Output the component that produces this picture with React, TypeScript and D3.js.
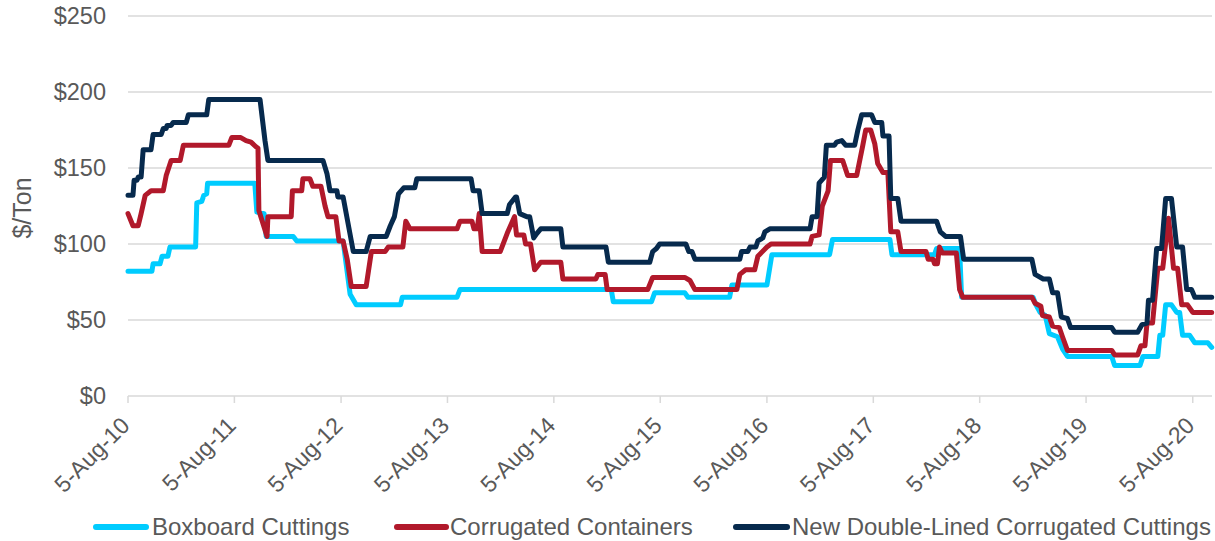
import React from "react";
import * as d3 from "d3";

// ---------- data ----------
const seriesNames = [
  "Boxboard Cuttings",
  "Corrugated Containers",
  "New Double-Lined Corrugated Cuttings",
];

const boxboardData: [string, number][] = [
  ["2010-08-05", 82], ["2010-10-26", 82], ["2010-10-30", 87], ["2010-11-23", 87],
  ["2010-11-30", 92], ["2010-12-20", 92], ["2010-12-27", 98], ["2011-03-25", 98],
  ["2011-03-29", 127], ["2011-04-15", 128], ["2011-04-22", 132], ["2011-05-02", 133],
  ["2011-05-05", 140], ["2011-10-14", 140], ["2011-10-21", 121], ["2011-11-15", 120],
  ["2011-11-22", 105], ["2012-02-23", 105], ["2012-03-06", 102], ["2012-08-12", 102],
  ["2012-09-05", 67], ["2012-09-26", 60], ["2013-02-25", 60], ["2013-03-03", 65],
  ["2013-09-07", 65], ["2013-09-17", 70], ["2015-02-18", 70], ["2015-02-25", 62],
  ["2015-07-06", 62], ["2015-07-17", 68], ["2015-10-28", 68], ["2015-11-08", 65],
  ["2016-03-30", 65], ["2016-04-07", 73], ["2016-08-05", 73], ["2016-08-22", 93],
  ["2017-03-08", 93], ["2017-03-18", 103], ["2017-10-01", 103], ["2017-10-08", 93],
  ["2018-03-03", 93], ["2018-03-10", 97], ["2018-05-28", 97], ["2018-06-04", 65],
  ["2019-02-04", 65], ["2019-02-14", 60], ["2019-02-28", 55], ["2019-03-18", 53],
  ["2019-04-01", 41], ["2019-04-29", 39], ["2019-05-16", 31], ["2019-06-02", 26],
  ["2019-11-01", 26], ["2019-11-11", 20], ["2020-02-06", 20], ["2020-02-16", 26],
  ["2020-04-07", 26], ["2020-04-14", 40], ["2020-04-24", 40], ["2020-05-04", 60],
  ["2020-05-24", 60], ["2020-06-11", 55], ["2020-06-21", 55], ["2020-07-01", 40],
  ["2020-07-25", 40], ["2020-08-12", 35], ["2020-09-26", 35], ["2020-10-09", 32],
];

const corrugatedData: [string, number][] = [
  ["2010-08-05", 120], ["2010-08-22", 112], ["2010-09-09", 112], ["2010-09-19", 120],
  ["2010-10-03", 132], ["2010-10-23", 135], ["2010-12-04", 135], ["2010-12-14", 145],
  ["2010-12-31", 155], ["2011-01-31", 155], ["2011-02-11", 165], ["2011-07-17", 165],
  ["2011-07-27", 170], ["2011-08-27", 170], ["2011-09-14", 168], ["2011-10-01", 167],
  ["2011-10-18", 164], ["2011-10-25", 163], ["2011-10-28", 122], ["2011-11-25", 105],
  ["2011-11-28", 118], ["2012-02-16", 118], ["2012-02-20", 135], ["2012-03-23", 135],
  ["2012-03-27", 143], ["2012-04-20", 143], ["2012-04-30", 138], ["2012-05-28", 138],
  ["2012-06-11", 125], ["2012-06-21", 118], ["2012-07-18", 118], ["2012-07-29", 102],
  ["2012-08-12", 102], ["2012-08-26", 90], ["2012-09-09", 72], ["2012-10-30", 72],
  ["2012-11-17", 95], ["2013-01-03", 95], ["2013-01-14", 98], ["2013-03-05", 98],
  ["2013-03-15", 115], ["2013-03-29", 110], ["2013-09-07", 110], ["2013-09-17", 115],
  ["2013-10-28", 115], ["2013-11-04", 110], ["2013-11-15", 110], ["2013-11-22", 120],
  ["2013-12-02", 95], ["2014-02-02", 95], ["2014-02-26", 107], ["2014-03-23", 118],
  ["2014-03-30", 106], ["2014-04-24", 106], ["2014-04-30", 100], ["2014-05-17", 100],
  ["2014-05-31", 83], ["2014-06-21", 88], ["2014-08-29", 88], ["2014-09-05", 77],
  ["2014-12-27", 77], ["2015-01-03", 80], ["2015-01-28", 80], ["2015-02-04", 70],
  ["2015-06-23", 70], ["2015-07-10", 78], ["2015-10-28", 78], ["2015-11-15", 76],
  ["2015-12-02", 70], ["2016-04-24", 70], ["2016-05-04", 80], ["2016-05-24", 83],
  ["2016-06-24", 83], ["2016-07-05", 92], ["2016-08-05", 98], ["2016-08-19", 100],
  ["2016-12-31", 100], ["2017-01-07", 105], ["2017-01-31", 106], ["2017-02-11", 125],
  ["2017-03-03", 135], ["2017-03-11", 155], ["2017-04-22", 155], ["2017-05-09", 145],
  ["2017-06-09", 145], ["2017-06-30", 165], ["2017-07-10", 175], ["2017-07-27", 175],
  ["2017-08-10", 166], ["2017-08-20", 153], ["2017-09-07", 147], ["2017-09-24", 147],
  ["2017-10-04", 108], ["2017-10-28", 108], ["2017-11-08", 95], ["2018-02-02", 95],
  ["2018-02-09", 90], ["2018-02-26", 90], ["2018-03-03", 87], ["2018-03-13", 87],
  ["2018-03-20", 98], ["2018-03-30", 94], ["2018-05-17", 94], ["2018-05-28", 70],
  ["2018-06-08", 65], ["2019-01-31", 65], ["2019-02-11", 61], ["2019-03-03", 59],
  ["2019-03-08", 53], ["2019-04-01", 52], ["2019-04-12", 46], ["2019-05-05", 45],
  ["2019-05-16", 39], ["2019-06-02", 30], ["2019-11-01", 30], ["2019-11-11", 27],
  ["2020-01-29", 27], ["2020-02-09", 33], ["2020-02-23", 33], ["2020-03-01", 48],
  ["2020-03-20", 48], ["2020-04-07", 84], ["2020-04-24", 84], ["2020-05-14", 117],
  ["2020-05-31", 84], ["2020-06-14", 84], ["2020-06-28", 60], ["2020-07-18", 60],
  ["2020-08-05", 55], ["2020-10-09", 55],
];

const doubleLinedData: [string, number][] = [
  ["2010-08-05", 132], ["2010-08-22", 132], ["2010-08-26", 142], ["2010-09-05", 142],
  ["2010-09-09", 144], ["2010-09-19", 144], ["2010-09-26", 162], ["2010-10-23", 162],
  ["2010-10-30", 172], ["2010-11-27", 172], ["2010-12-04", 176], ["2010-12-14", 176],
  ["2010-12-17", 178], ["2010-12-31", 178], ["2011-01-07", 180], ["2011-02-21", 180],
  ["2011-02-28", 185], ["2011-05-02", 185], ["2011-05-09", 195], ["2011-11-01", 195],
  ["2011-11-18", 168], ["2011-11-28", 155], ["2012-06-04", 155], ["2012-06-18", 146],
  ["2012-06-28", 135], ["2012-07-22", 135], ["2012-07-25", 131], ["2012-08-12", 131],
  ["2012-09-16", 95], ["2012-10-30", 95], ["2012-11-13", 105], ["2013-01-07", 105],
  ["2013-01-21", 112], ["2013-02-04", 118], ["2013-02-18", 133], ["2013-03-08", 137],
  ["2013-04-15", 137], ["2013-04-22", 143], ["2013-10-25", 143], ["2013-11-01", 135],
  ["2013-11-22", 135], ["2013-12-02", 120], ["2014-02-26", 120], ["2014-03-06", 126],
  ["2014-03-27", 131], ["2014-03-30", 131], ["2014-04-10", 120], ["2014-05-04", 118],
  ["2014-05-14", 118], ["2014-05-28", 104], ["2014-06-08", 107], ["2014-06-21", 110],
  ["2014-08-29", 110], ["2014-09-05", 98], ["2015-01-31", 98], ["2015-02-08", 88],
  ["2015-06-30", 88], ["2015-07-10", 95], ["2015-07-23", 97], ["2015-08-03", 100],
  ["2015-11-01", 100], ["2015-11-11", 95], ["2015-11-22", 95], ["2015-12-02", 90],
  ["2016-05-04", 90], ["2016-05-10", 95], ["2016-05-31", 95], ["2016-06-08", 98],
  ["2016-06-28", 98], ["2016-07-05", 102], ["2016-07-22", 104], ["2016-07-29", 108],
  ["2016-08-15", 110], ["2016-12-31", 110], ["2017-01-07", 118], ["2017-01-24", 118],
  ["2017-01-31", 140], ["2017-02-18", 144], ["2017-02-25", 165], ["2017-03-25", 165],
  ["2017-04-01", 167], ["2017-04-19", 168], ["2017-05-02", 165], ["2017-06-02", 165],
  ["2017-06-13", 175], ["2017-06-26", 185], ["2017-07-30", 185], ["2017-08-10", 180],
  ["2017-09-03", 180], ["2017-09-07", 171], ["2017-09-28", 171], ["2017-10-04", 130],
  ["2017-10-28", 130], ["2017-11-08", 115], ["2018-03-10", 115], ["2018-03-23", 108],
  ["2018-04-10", 105], ["2018-05-31", 105], ["2018-06-11", 90], ["2019-01-31", 90],
  ["2019-02-11", 80], ["2019-03-11", 77], ["2019-04-01", 77], ["2019-04-12", 68],
  ["2019-04-29", 68], ["2019-05-12", 52], ["2019-06-02", 51], ["2019-06-13", 45],
  ["2019-11-01", 45], ["2019-11-11", 42], ["2020-01-29", 42], ["2020-02-13", 47],
  ["2020-03-01", 48], ["2020-03-06", 63], ["2020-03-20", 63], ["2020-04-03", 97],
  ["2020-04-20", 97], ["2020-05-04", 130], ["2020-05-24", 130], ["2020-06-11", 98],
  ["2020-07-01", 98], ["2020-07-15", 70], ["2020-08-01", 70], ["2020-08-12", 65],
  ["2020-10-09", 65],
];

const seriesColors = ["#00CCFF", "#B1192B", "#072A4D"];
const yTicks = [0, 50, 100, 150, 200, 250];
const xTickDates = [
  "2010-08-05", "2011-08-05", "2012-08-05", "2013-08-05", "2014-08-05", "2015-08-05",
  "2016-08-05", "2017-08-05", "2018-08-05", "2019-08-05", "2020-08-05",
];
const xDomain = ["2010-08-05", "2020-10-10"];
const yAxisTitle = "$/Ton";

// ---------- chart ----------
const W = 1215;
const H = 541;
const plot = { left: 128, right: 1212, top: 16, bottom: 396 };
const FONT = "'Liberation Sans', Arial, sans-serif";
const TEXT = "#595959";
const GRID = "#D9D9D9";

const parse = d3.timeParse("%Y-%m-%d");
const fmt = d3.timeFormat("%-d-%b-%y");

export default function App() {
  const x = d3
    .scaleTime()
    .domain(xDomain.map((d) => parse(d) as Date))
    .range([plot.left, plot.right]);
  const y = d3.scaleLinear().domain([0, 250]).range([plot.bottom, plot.top]);

  const line = d3
    .line<[string, number]>()
    .x((d) => x(parse(d[0]) as Date))
    .y((d) => y(d[1]))
    .curve(d3.curveLinear);

  const allSeries = [boxboardData, corrugatedData, doubleLinedData];

  const legendItems = [
    { sx: 96, ex: 146, tx: 152 },
    { sx: 397, ex: 446, tx: 450 },
    { sx: 736, ex: 787, tx: 792 },
  ];

  return (
    <svg
      width={W}
      height={H}
      style={{ position: "absolute", left: 0, top: 0, background: "#fff" }}
      fontFamily={FONT}
    >
      {/* gridlines */}
      {yTicks
        .filter((t) => t > 0)
        .map((t) => (
          <line
            key={t}
            x1={plot.left}
            x2={plot.right}
            y1={y(t)}
            y2={y(t)}
            stroke={GRID}
            strokeWidth={1.5}
          />
        ))}
      {/* x axis */}
      <line
        x1={plot.left}
        x2={plot.right}
        y1={y(0)}
        y2={y(0)}
        stroke={GRID}
        strokeWidth={1.5}
      />
      {xTickDates.map((d) => {
        const xx = x(parse(d) as Date);
        return (
          <g key={d}>
            <line x1={xx} x2={xx} y1={y(0)} y2={y(0) + 7} stroke={GRID} strokeWidth={1.5} />
            <text
              transform={`translate(${xx + 3},${427}) rotate(-45)`}
              textAnchor="end"
              fontSize={23}
              fill={TEXT}
            >
              {fmt(parse(d) as Date)}
            </text>
          </g>
        );
      })}
      {/* y tick labels */}
      {yTicks.map((t) => (
        <text
          key={t}
          x={106}
          y={y(t)}
          dy="0.35em"
          textAnchor="end"
          fontSize={23.5}
          fill={TEXT}
        >
          {d3.format("$,.0f")(t)}
        </text>
      ))}
      {/* y axis title */}
      <text
        transform={`translate(31,${(plot.top + plot.bottom) / 2 + 2}) rotate(-90)`}
        textAnchor="middle"
        fontSize={25}
        fill={TEXT}
      >
        {yAxisTitle}
      </text>
      {/* series */}
      {allSeries.map((s, i) => (
        <path
          key={seriesNames[i]}
          d={line(s) || ""}
          fill="none"
          stroke={seriesColors[i]}
          strokeWidth={5}
          strokeLinejoin="round"
          strokeLinecap="round"
        />
      ))}
      {/* legend */}
      {legendItems.map((l, i) => (
        <g key={seriesNames[i]}>
          <line
            x1={l.sx}
            x2={l.ex}
            y1={527}
            y2={527}
            stroke={seriesColors[i]}
            strokeWidth={6}
            strokeLinecap="round"
          />
          <text x={l.tx} y={535} fontSize={24} fill={TEXT}>
            {seriesNames[i]}
          </text>
        </g>
      ))}
    </svg>
  );
}
